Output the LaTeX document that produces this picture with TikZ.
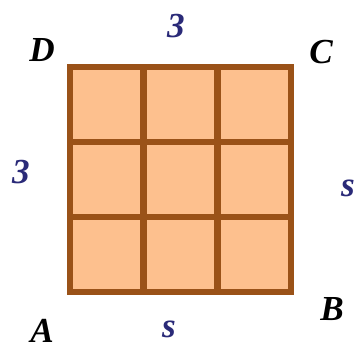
\documentclass[tikz,border=0pt]{standalone}
\usepackage{fontspec}
\setmainfont{Liberation Serif}
\usepackage{xcolor}
\usepackage{tikz}
\definecolor{tile}{HTML}{FDC08E}
\definecolor{edge}{HTML}{9A5218}
\definecolor{ink}{HTML}{2A2A78}

\begin{document}
\begin{tikzpicture}[x=0.02cm,y=-0.02cm]
\useasboundingbox (0,0) rectangle (358,349);
\tikzset{pt/.style={font=\fontsize{20}{24}\selectfont\bfseries\itshape},
  len/.style={pt,text=ink}}
\fill[tile] (70,67) rectangle (291,292);
\foreach \k in {1,2}{
  \draw[edge,line width=3.7pt] (70+\k*73.7,67)--(70+\k*73.7,292);
  \draw[edge,line width=3.7pt] (70,67+\k*75)--(291,67+\k*75);}
\draw[edge,line width=3.7pt] (70,67) rectangle (291,292);
\node[pt] (D) at (42,50) {D};
\node[pt] (C) at (321,52) {C};
\node[pt] (A) at (42,331) {A};
\node[pt] (B) at (332,309) {B};
\node[len] (top) at (176,26) {3};
\node[len] (left) at (21,172) {3};
\node[len] (right) at (348,188) {s};
\node[len] (bot) at (169,329) {s};
\end{tikzpicture}
\end{document}
